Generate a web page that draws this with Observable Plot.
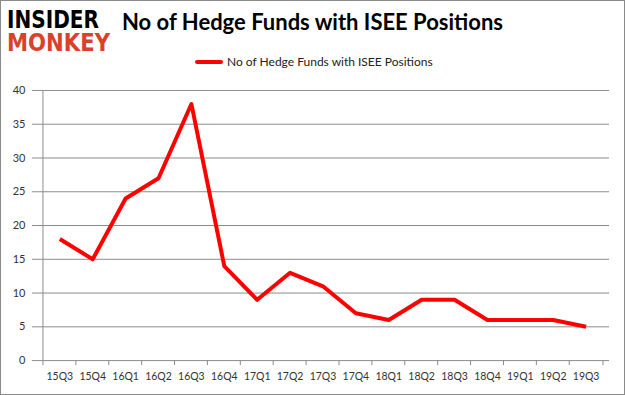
<!DOCTYPE html>
<html>
<head>
<meta charset="utf-8">
<script src="https://cdn.jsdelivr.net/npm/d3@7"></script>
<script src="https://cdn.jsdelivr.net/npm/@observablehq/plot@0.6"></script>
<style>
  html, body { margin: 0; padding: 0; background: #fff; }
  #wrap { position: relative; width: 625px; height: 395px; box-sizing: border-box; border: 1px solid #8a8a8a; overflow: hidden; font-family: Lato, "Open Sans", sans-serif; }
  #logo { position: absolute; left: 0px; top: 0px; overflow: visible; }
  #title { position: absolute; left: 121px; top: 7px; font-family: Lato, sans-serif; font-weight: bold; font-size: 22px; color: #000; white-space: nowrap; }
  #legend { position: absolute; left: 194px; top: 53px; font-size: 12px; color: #222; white-space: nowrap; display: flex; align-items: center; }
  #legend .sw { display: inline-block; width: 28px; height: 4px; background: #ff0000; border-radius: 2px; margin-right: 4px; }
  #chart { position: absolute; left: 0; top: 75px; }
</style>
</head>
<body>
<div id="wrap">
  <svg id="logo" width="118" height="58">
    <text transform="translate(6,27) scale(1,1.28)" textLength="92" lengthAdjust="spacingAndGlyphs" font-family="DejaVu Sans" font-weight="bold" font-size="20" fill="#000">INSIDER</text>
    <text transform="translate(6,50) scale(1,1.28)" textLength="103" lengthAdjust="spacingAndGlyphs" font-family="DejaVu Sans" font-weight="bold" font-size="20" fill="#d9412b">MONKEY</text>
  </svg>
  <div id="title">No of Hedge Funds with ISEE Positions</div>
  <div id="legend"><span class="sw"></span><span>No of Hedge Funds with ISEE Positions</span></div>
  <div id="chart"></div>
</div>
<script>
const quarters = ["15Q3","15Q4","16Q1","16Q2","16Q3","16Q4","17Q1","17Q2","17Q3","17Q4","18Q1","18Q2","18Q3","18Q4","19Q1","19Q2","19Q3"];
const funds = [18, 15, 24, 27, 38, 14, 9, 13, 11, 7, 6, 9, 9, 6, 6, 6, 5];
const yTicks = [0, 5, 10, 15, 20, 25, 30, 35, 40];

const data = quarters.map((q, i) => ({quarter: q, funds: funds[i]}));

const W = 625, ML = 35, MR = 15;
const bw = (W - ML - MR) / quarters.length;
const grid = "#8c8c8c";

const chart = Plot.plot({
  width: W,
  height: 320,
  marginTop: 14,
  marginBottom: 35,
  marginLeft: ML,
  marginRight: MR,
  style: {fontFamily: "Lato, 'Open Sans', sans-serif", background: "transparent"},
  x: {type: "band", domain: quarters, padding: 0, axis: null},
  y: {domain: [0, 40], ticks: yTicks, axis: null},
  marks: [
    Plot.gridY(yTicks, {stroke: grid, strokeOpacity: 1, strokeWidth: 1}),
    Plot.axisY(yTicks, {tickSize: 4, tickPadding: 7, stroke: grid, fill: "#333", fontSize: 11, label: null}),
    Plot.ruleX([quarters[0]], {dx: -bw / 2, stroke: grid}),
    Plot.axisX(quarters, {tickSize: 5, dx: -bw / 2, stroke: grid, tickFormat: () => "", label: null}),
    Plot.axisX([quarters[quarters.length - 1]], {tickSize: 5, dx: bw / 2, stroke: grid, tickFormat: () => "", label: null}),
    Plot.axisX(quarters, {tickSize: 0, tickPadding: 12, fill: "#333", fontSize: 10.5, label: null}),
    Plot.line(data, {x: "quarter", y: "funds", stroke: "#ff0000", strokeWidth: 4, strokeLinejoin: "round", strokeLinecap: "butt"})
  ]
});
document.getElementById("chart").appendChild(chart);
</script>
</body>
</html>
